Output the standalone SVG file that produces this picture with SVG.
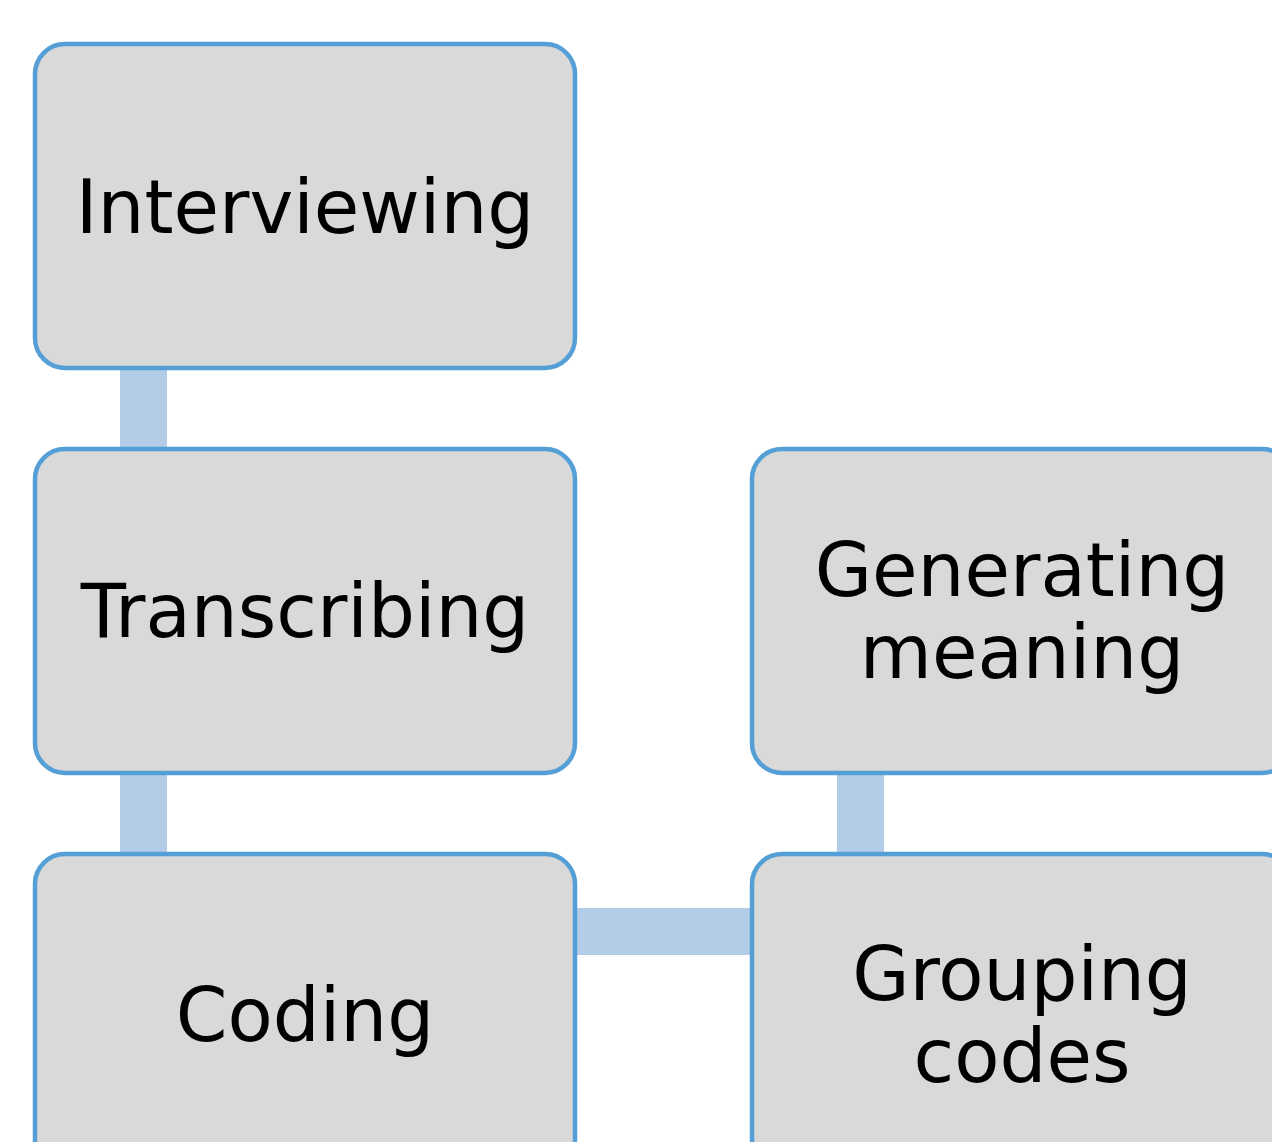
<svg xmlns="http://www.w3.org/2000/svg" width="1272" height="1142" viewBox="0 0 1272 1142">
<style>
.box{fill:#d9d9d9;stroke:#559fd7;stroke-width:4.5}
.lbl{font-family:"DejaVu Sans",Verdana,sans-serif;font-size:74px;fill:#000;text-anchor:middle}
.conn{fill:#b3cde8}
</style>
<rect width="1272" height="1142" fill="#fff"/>
<g id="connectors">
<rect class="conn" x="120" y="366" width="47" height="85"/>
<rect class="conn" x="120" y="771" width="47" height="85"/>
<rect class="conn" x="573" y="908" width="181" height="47"/>
<rect class="conn" x="837" y="771" width="47" height="85"/>
</g>
<g id="interviewing">
<rect class="box" x="35" y="44" width="540" height="324" rx="30"/>
<text class="lbl" x="305" y="233">Interviewing</text>
</g>
<g id="transcribing">
<rect class="box" x="35" y="449" width="540" height="324" rx="30"/>
<text class="lbl" x="305" y="637">Transcribing</text>
</g>
<g id="coding">
<rect class="box" x="35" y="854" width="540" height="324" rx="30"/>
<text class="lbl" x="305" y="1041">Coding</text>
</g>
<g id="generating-meaning">
<rect class="box" x="752" y="449" width="540" height="324" rx="30"/>
<text class="lbl" x="1022" y="596">Generating</text>
<text class="lbl" x="1022" y="678">meaning</text>
</g>
<g id="grouping-codes">
<rect class="box" x="752" y="854" width="540" height="324" rx="30"/>
<text class="lbl" x="1022" y="1000">Grouping</text>
<text class="lbl" x="1022" y="1082">codes</text>
</g>
</svg>
